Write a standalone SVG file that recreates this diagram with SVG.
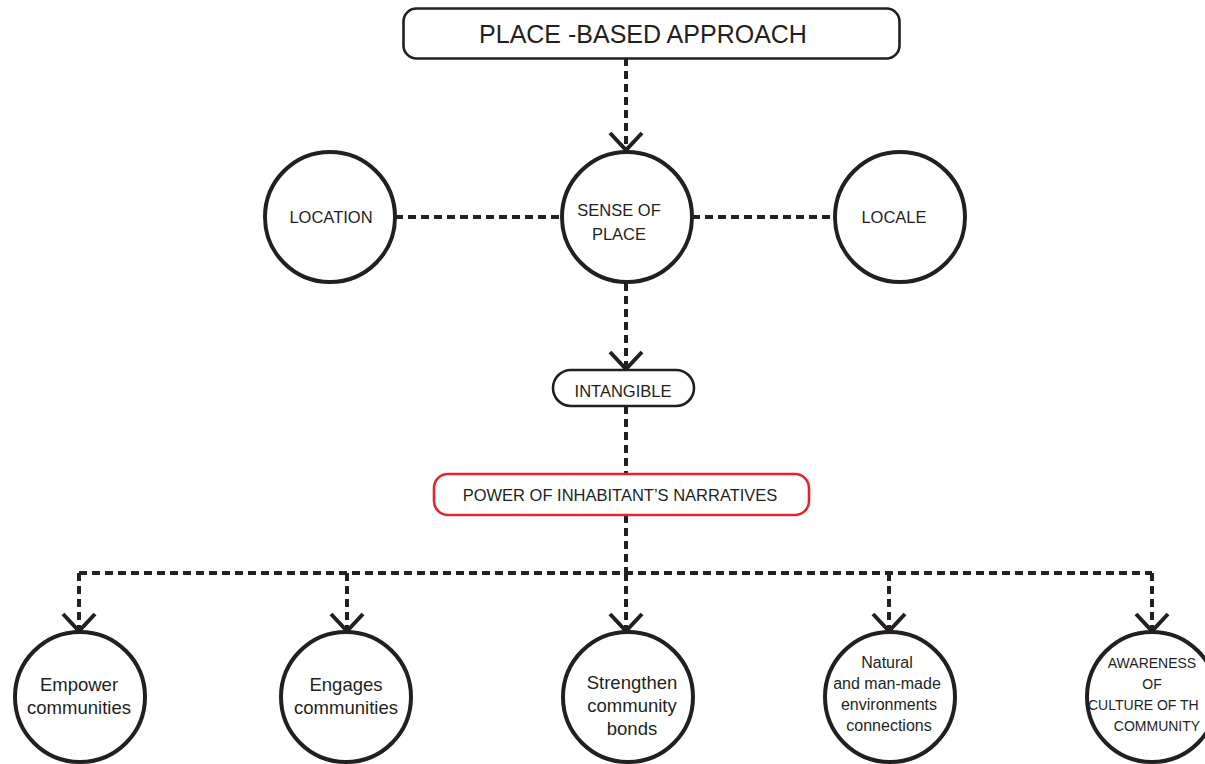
<svg xmlns="http://www.w3.org/2000/svg" width="1205" height="764" viewBox="0 0 1205 764">
<style>
.bg{fill:#fff}
.box{fill:#fff;stroke:#231f20;stroke-width:2.6}
.red{fill:#fff;stroke:#e3262b;stroke-width:2.6}
.circ{fill:#fff;stroke:#231f20;stroke-width:4}
.dash{fill:none;stroke:#231f20;stroke-width:4;stroke-dasharray:8 5}
.chev{fill:none;stroke:#231f20;stroke-width:4}
text{font-family:"Liberation Sans",Arial,sans-serif;fill:#231f20;text-anchor:middle}
.t1{font-size:25px}
.t2{font-size:16.5px}
.t3{font-size:18.5px}
.t4{font-size:16px}
.t5{font-size:14px}
</style>
<rect class="bg" width="1205" height="764"/>
<g id="connectors">
<path class="dash" d="M626 58V148"/>
<path class="dash" d="M395 217H562M692 217H835"/>
<path class="dash" d="M626 283V367"/>
<path class="dash" d="M626 406V474"/>
<path class="dash" d="M626 515V573"/>
<path class="dash" d="M79 573H1152"/>
<path class="dash" d="M79 573V630M347 573V630M626 573V630M889 573V630M1152 573V630"/>
<path class="chev" d="M610 133L626 150L642 133"/>
<path class="chev" d="M610 352L626 369L642 352"/>
<path class="chev" d="M63 614L79 631L95 614"/>
<path class="chev" d="M331 614L347 631L363 614"/>
<path class="chev" d="M610 614L626 631L642 614"/>
<path class="chev" d="M873 614L889 631L905 614"/>
<path class="chev" d="M1136 614L1152 631L1168 614"/>
</g>
<g id="place-based-approach">
<rect class="box" x="403.5" y="8.5" width="496" height="50" rx="13"/>
<text class="t1" x="643" y="43">PLACE -BASED APPROACH</text>
</g>
<g id="location">
<circle class="circ" cx="330" cy="217" r="65"/>
<text class="t2" x="331" y="223">LOCATION</text>
</g>
<g id="sense-of-place">
<circle class="circ" cx="627" cy="217" r="65"/>
<text class="t2" x="619" y="216">SENSE OF</text>
<text class="t2" x="619" y="240">PLACE</text>
</g>
<g id="locale">
<circle class="circ" cx="900" cy="217" r="65"/>
<text class="t2" x="894" y="223">LOCALE</text>
</g>
<g id="intangible">
<rect class="box" x="553" y="370" width="141" height="36" rx="18"/>
<text class="t2" x="623" y="397">INTANGIBLE</text>
</g>
<g id="power">
<rect class="red" x="434" y="474" width="375" height="41" rx="14"/>
<text class="t2" x="620" y="501">POWER OF INHABITANT’S NARRATIVES</text>
</g>
<g id="empower">
<circle class="circ" cx="80" cy="697" r="65"/>
<text class="t3" x="79" y="691">Empower</text>
<text class="t3" x="79" y="714">communities</text>
</g>
<g id="engages">
<circle class="circ" cx="346" cy="697" r="65"/>
<text class="t3" x="346" y="691">Engages</text>
<text class="t3" x="346" y="714">communities</text>
</g>
<g id="strengthen">
<circle class="circ" cx="628" cy="697" r="65"/>
<text class="t3" x="632" y="689">Strengthen</text>
<text class="t3" x="632" y="712">community</text>
<text class="t3" x="632" y="735">bonds</text>
</g>
<g id="natural">
<circle class="circ" cx="890" cy="697" r="65"/>
<text class="t4" x="887" y="668">Natural</text>
<text class="t4" x="887" y="689">and man-made</text>
<text class="t4" x="889" y="710">environments</text>
<text class="t4" x="889" y="731">connections</text>
</g>
<g id="awareness">
<circle class="circ" cx="1152" cy="697" r="65"/>
<text class="t5" x="1152" y="668">AWARENESS</text>
<text class="t5" x="1152" y="689">OF</text>
<text class="t5" x="1088" y="710" style="text-anchor:start">CULTURE OF TH</text>
<text class="t5" x="1157" y="731">COMMUNITY</text>
</g>
</svg>
